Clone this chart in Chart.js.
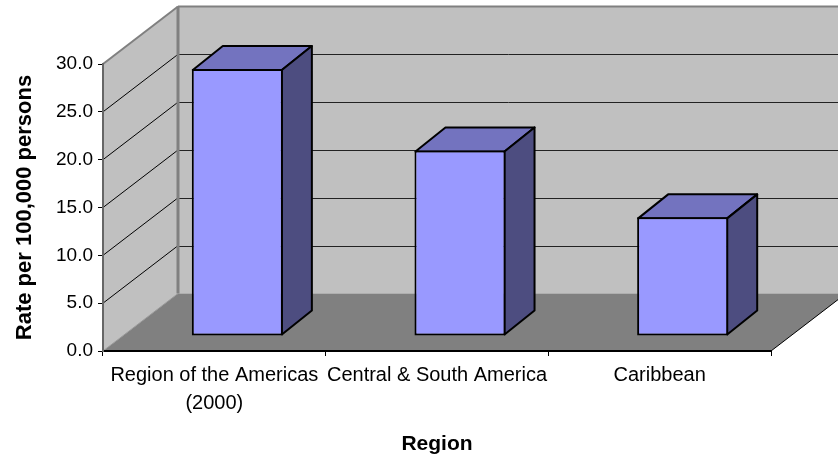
<!DOCTYPE html>
<html>
<head>
<meta charset="utf-8">
<style>
  html, body { margin: 0; padding: 0; background: #fff; }
  canvas { display: block; }
</style>
<script src="https://cdn.jsdelivr.net/npm/chart.js@4"></script>
</head>
<body>
<canvas id="rateChart" width="838" height="458"></canvas>
<script>
const categories = [["Region of the Americas", "(2000)"], "Central & South America", "Caribbean"];
const rates = [27.9, 19.4, 12.4];
const yTickStep = 5;
const yMax = 30;

// offsets of the fake 3D box
const wallDepth = { x: 75, y: -57.5 };
const barShift = { x: 23, y: -15 };
const barDepth = { x: 30, y: -24 };
const barBorder = 2;

const fontName = "'Liberation Sans', Arial, sans-serif";

function fillPoly(ctx, pts, fill, stroke, width) {
    ctx.beginPath();
    pts.forEach((p, i) => i ? ctx.lineTo(p[0], p[1]) : ctx.moveTo(p[0], p[1]));
    ctx.closePath();
    if (fill) {
        ctx.fillStyle = fill;
        ctx.fill();
    }
    if (stroke) {
        ctx.strokeStyle = stroke;
        ctx.lineWidth = width;
        ctx.lineJoin = "round";
        ctx.stroke();
    }
}

function line(ctx, x1, y1, x2, y2, color, width) {
    ctx.beginPath();
    ctx.moveTo(x1, y1);
    ctx.lineTo(x2, y2);
    ctx.strokeStyle = color;
    ctx.lineWidth = width;
    ctx.stroke();
}

// walls, floor and gridlines go under the axes
const roomPlugin = {
    id: "room",
    beforeDraw(chart) {
        const ctx = chart.ctx;
        const { left, right, top, bottom } = chart.chartArea;
        const dx = wallDepth.x, dy = wallDepth.y;

        ctx.save();
        fillPoly(ctx, [[left + dx, top + dy], [right + dx, top + dy], [right + dx, bottom + dy], [left + dx, bottom + dy]], "#c0c0c0");
        fillPoly(ctx, [[left, top], [left + dx, top + dy], [left + dx, bottom + dy], [left, bottom]], "#c0c0c0");
        fillPoly(ctx, [[left, bottom], [left + dx, bottom + dy], [right + dx, bottom + dy], [right, bottom]], "#808080");

        chart.scales.y.ticks.forEach(t => {
            if (t.value === 0 || t.value === yMax) return;
            const py = chart.scales.y.getPixelForValue(t.value);
            line(ctx, left, py, left + dx, py + dy, "#000", 1);
            const back = Math.round(py + dy) + 0.5;
            line(ctx, left + dx, back, right + dx, back, "#222", 1);
        });

        // edges of the room
        line(ctx, left + dx, top + dy, right + dx, top + dy, "#808080", 2);
        line(ctx, left + dx, top + dy, left + dx, bottom + dy, "#808080", 3);
        line(ctx, left, top, left + dx, top + dy, "#808080", 2);
        line(ctx, left, bottom, left + dx, bottom + dy, "#999", 1);
        line(ctx, right, bottom, right + dx, bottom + dy, "#000", 1);
        ctx.restore();
    },
    // side and top faces, then the library's own bars shifted into the room
    beforeDatasetDraw(chart, args) {
        const ctx = chart.ctx;
        ctx.save();
        ctx.translate(barShift.x, barShift.y);
        const bx = barDepth.x, by = barDepth.y;
        const inset = barBorder / 2;
        chart.getDatasetMeta(args.index).data.forEach(bar => {
            const l = bar.x - bar.width / 2 + inset, r = bar.x + bar.width / 2 - inset;
            const t = bar.y + inset, b = bar.base - inset;
            fillPoly(ctx, [[l, t], [l + bx, t + by], [r + bx, t + by], [r, t]], "#7373bf", "#000", barBorder);
            fillPoly(ctx, [[r, t], [r + bx, t + by], [r + bx, b + by], [r, b]], "#4d4d80", "#000", barBorder);
        });
    },
    afterDatasetDraw(chart) {
        chart.ctx.restore();
    }
};

new Chart(document.getElementById("rateChart"), {
    type: "bar",
    data: {
        labels: categories,
        datasets: [{
            data: rates,
            backgroundColor: "#9999ff",
            borderColor: "#000",
            borderWidth: barBorder,
            borderSkipped: false,
            barPercentage: 0.409,
            categoryPercentage: 1,
            clip: false
        }]
    },
    options: {
        responsive: false,
        animation: false,
        events: [],
        layout: { padding: { top: 64, right: 67, bottom: 0, left: 0 } },
        plugins: {
            legend: { display: false },
            tooltip: { enabled: false }
        },
        scales: {
            x: {
                afterFit: s => { s.height = 107; },
                grid: { drawOnChartArea: false, tickColor: "#000", tickLength: 5 },
                border: { color: "#000", width: 2 },
                ticks: {
                    color: "#000",
                    autoSkip: false,
                    maxRotation: 0,
                    padding: 5,
                    font: { family: fontName, size: 20, lineHeight: 1.42 }
                },
                title: {
                    display: true,
                    text: "Region",
                    color: "#000",
                    font: { family: fontName, size: 21, weight: "bold" },
                    padding: { top: 0, bottom: 1 }
                }
            },
            y: {
                min: 0,
                max: yMax,
                afterFit: s => { s.width = 103; },
                grid: { drawOnChartArea: false, tickColor: "#000", tickLength: 5 },
                border: { color: "#666", width: 2 },
                ticks: {
                    stepSize: yTickStep,
                    color: "#000",
                    padding: 5,
                    font: { family: fontName, size: 19 },
                    callback: v => v.toFixed(1)
                },
                title: {
                    display: true,
                    text: "Rate per 100,000 persons",
                    color: "#000",
                    font: { family: fontName, size: 22, weight: "bold" },
                    padding: { top: 12, bottom: 0 }
                }
            }
        }
    },
    plugins: [roomPlugin]
});
</script>
</body>
</html>
